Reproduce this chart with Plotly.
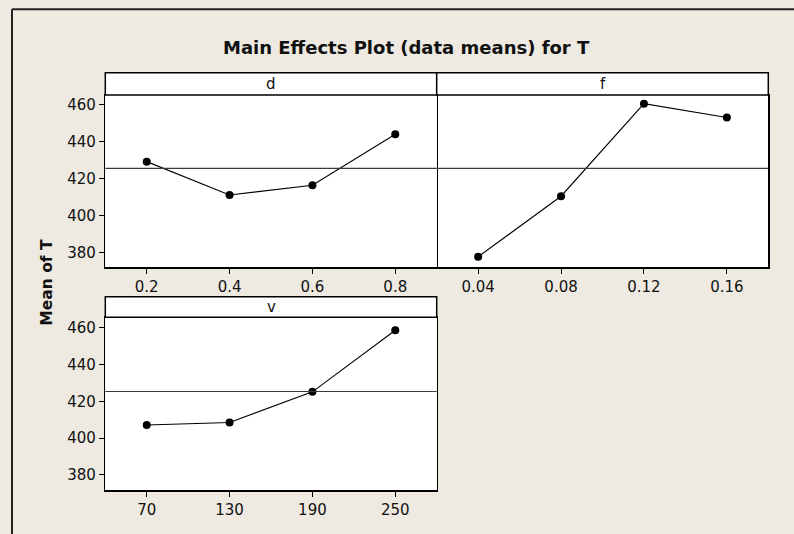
import plotly.graph_objects as go

# ---- data ----
d_levels = [0.2, 0.4, 0.6, 0.8]
d_means = [429.0, 411.0, 416.2, 443.8]
f_levels = [0.04, 0.08, 0.12, 0.16]
f_means = [377.6, 410.3, 460.3, 452.8]
v_levels = [70, 130, 190, 250]
v_means = [407.1, 408.5, 425.1, 458.6]
d_ticktext = ["0.2", "0.4", "0.6", "0.8"]
f_ticktext = ["0.04", "0.08", "0.12", "0.16"]
v_ticktext = ["70", "130", "190", "250"]
y_ticks = [380, 400, 420, 440, 460]
grand_mean = 425.3

W, H = 794, 534
BG = "#EEEAE1"
FONT = "DejaVu Sans"
TICK_SIZE = 15


def fx(x):
    return x / W


def fy(y):
    return 1 - y / H


# panel geometry in pixels
panels = {
    "d": dict(x0=105.3, x1=436.7, st=72.7, sb=95.0, b=267.3, yr=[371.9, 465.0], xr=[0.1, 0.9]),
    "f": dict(x0=436.7, x1=768.3, st=72.7, sb=95.0, b=267.3, yr=[371.9, 465.0], xr=[0.02, 0.18]),
    "v": dict(x0=105.3, x1=436.7, st=296.7, sb=317.3, b=490.0, yr=[371.8, 465.6], xr=[40, 280]),
}

fig = go.Figure()
series = [("d", d_levels, d_means, d_ticktext, "x", "y"),
          ("f", f_levels, f_means, f_ticktext, "x2", "y2"),
          ("v", v_levels, v_means, v_ticktext, "x3", "y3")]

shapes = []
annotations = []
layout = {}
for i, (name, xs, ys, tt, xa, ya) in enumerate(series):
    p = panels[name]
    fig.add_trace(go.Scatter(x=xs, y=ys, xaxis=xa, yaxis=ya, mode="lines+markers",
                             line=dict(color="black", width=1.1),
                             marker=dict(color="black", size=8),
                             showlegend=False, hoverinfo="skip"))
    suffix = "" if i == 0 else str(i + 1)
    layout["xaxis" + suffix] = dict(
        domain=[fx(p["x0"]), fx(p["x1"])], range=p["xr"], anchor="y" + suffix,
        tickvals=xs, ticktext=tt, ticks="outside", ticklen=5, tickcolor="black",
        showline=True, linecolor="black", linewidth=1.5, mirror=True,
        showgrid=False, zeroline=False,
        tickfont=dict(family=FONT, size=TICK_SIZE, color="#111"))
    show_y = name != "f"
    ydict = dict(
        domain=[fy(p["b"]), fy(p["sb"])], range=p["yr"], anchor="x" + suffix,
        tickvals=y_ticks if show_y else [], ticks="outside" if show_y else "",
        ticklen=5, tickcolor="black", showticklabels=show_y,
        showline=True, linecolor="black", linewidth=1.5, mirror=show_y,
        showgrid=False, zeroline=False,
        tickfont=dict(family=FONT, size=TICK_SIZE, color="#111"))
    if not show_y:
        ydict["side"] = "right"
    layout["yaxis" + suffix] = ydict
    # grand mean reference line
    shapes.append(dict(type="line", xref=xa + " domain", yref=ya, x0=0, x1=1,
                       y0=grand_mean, y1=grand_mean,
                       line=dict(color="#3a3a3a", width=1.2)))
    # strip
    shapes.append(dict(type="rect", xref="paper", yref="paper",
                       x0=fx(p["x0"]), x1=fx(p["x1"]), y0=fy(p["sb"]), y1=fy(p["st"]),
                       fillcolor="white", line=dict(color="black", width=1.5)))
    annotations.append(dict(text=name, xref="paper", yref="paper",
                            x=fx((p["x0"] + p["x1"]) / 2), y=fy((p["st"] + p["sb"]) / 2),
                            showarrow=False, xanchor="center", yanchor="middle",
                            font=dict(family=FONT, size=15, color="#111")))

# outer frame (top and left edges)
shapes.append(dict(type="line", xref="paper", yref="paper", x0=fx(12), x1=1.0,
                   y0=fy(9.3), y1=fy(9.3), line=dict(color="#222", width=2)))
shapes.append(dict(type="line", xref="paper", yref="paper", x0=fx(12), x1=fx(12),
                   y0=fy(9.3), y1=0, line=dict(color="#222", width=2)))

annotations.append(dict(text="<b>Main Effects Plot (data means) for T</b>", xref="paper", yref="paper",
                        x=fx(407), y=fy(47.7), showarrow=False, xanchor="center", yanchor="middle",
                        font=dict(family=FONT, size=18, color="#111")))
annotations.append(dict(text="<b>Mean of T</b>", xref="paper", yref="paper",
                        x=fx(46.7), y=fy(282), showarrow=False, textangle=-90,
                        xanchor="center", yanchor="middle",
                        font=dict(family=FONT, size=15.5, color="#111")))

fig.update_layout(width=W, height=H, margin=dict(l=0, r=0, t=0, b=0),
                  paper_bgcolor=BG, plot_bgcolor="white",
                  shapes=shapes, annotations=annotations, **layout)

fig.write_html("out.html",
               config={"displayModeBar": False, "staticPlot": True},
               post_script="document.body.style.margin='0';"
                           "document.body.style.padding='0';"
                           "document.body.style.overflow='hidden';"
                           f"document.body.style.background='{BG}';")
